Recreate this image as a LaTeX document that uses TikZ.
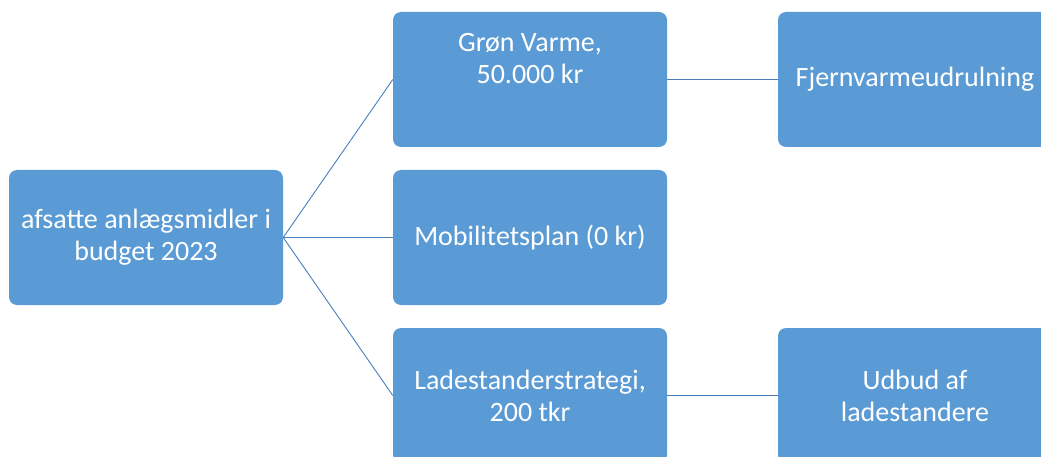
\documentclass[tikz,border=0pt]{standalone}
\usepackage{fontspec}
\setmainfont{Carlito}
\definecolor{boxblue}{HTML}{5B9BD5}
\definecolor{lineblue}{HTML}{4A7EBB}
\begin{document}
\begin{tikzpicture}[x=1pt,y=-1pt,
  box/.style={draw=none, fill=boxblue, rounded corners=8pt, minimum width=274pt,
    minimum height=135pt, inner sep=0pt, text=white, align=center,
    font=\fontsize{28}{32}\selectfont},
  link/.style={draw=lineblue, line width=0.9pt}]
\useasboundingbox (0,0) rectangle (1041,457);
\clip (0,0) rectangle (1041,457);
\node[box] (a) at (146,237.5) {afsatte anlægsmidler i\\budget 2023};
\node[box] (b1) at (530,79.5) {Grøn Varme,\\50.000 kr\\\strut};
\node[box] (b2) at (530,237.5) {Mobilitetsplan (0 kr)};
\node[box] (b3) at (530,395.5) {Ladestanderstrategi,\\200 tkr};
\node[box] (c1) at (915,79.5) {Fjernvarmeudrulning};
\node[box] (c3) at (915,395.5) {Udbud af\\ladestandere};
\draw[link] (a.east) -- (b1.west);
\draw[link] (a.east) -- (b2.west);
\draw[link] (a.east) -- (b3.west);
\draw[link] (b1.east) -- (c1.west);
\draw[link] (b3.east) -- (c3.west);
\end{tikzpicture}
\end{document}
